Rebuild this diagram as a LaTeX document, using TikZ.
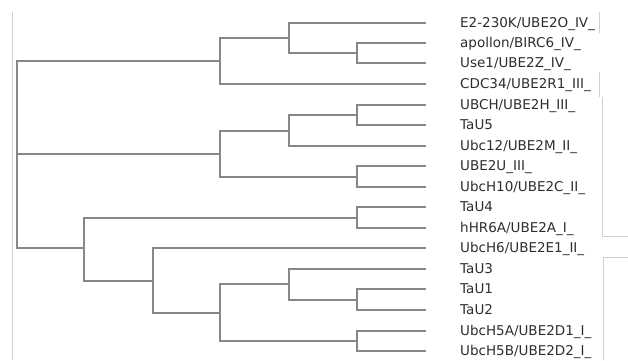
\documentclass[tikz,border=0pt]{standalone}
\usepackage{fontspec}
\setmainfont{DejaVu Sans}
\usetikzlibrary{positioning}
\definecolor{treegray}{RGB}{135,135,135}
\definecolor{labelgray}{RGB}{45,45,45}
\definecolor{framegray}{RGB}{208,208,208}

\begin{document}
\begin{tikzpicture}[x=1pt, y=-1pt,
		branch/.style={draw=treegray, line width=2pt},
		leafname/.style={text=labelgray, inner sep=0pt, anchor=base west, yshift=-4.5pt, font=\fontsize{13.5}{16}\selectfont},
		frameline/.style={draw=framegray, line width=0.8pt}]
		\useasboundingbox (0,0) rectangle (628,360);

		% leaf ends
		\coordinate (l1) at (426,22.7);
		\coordinate (l2) at (426,43.3);
		\coordinate (l3) at (426,63.3);
		\coordinate (l4) at (426,84);
		\coordinate (l5) at (426,104.7);
		\coordinate (l6) at (426,125.3);
		\coordinate (l7) at (426,145.7);
		\coordinate (l8) at (426,166);
		\coordinate (l9) at (426,186.7);
		\coordinate (l10) at (426,207.3);
		\coordinate (l11) at (426,228);
		\coordinate (l12) at (426,248.3);
		\coordinate (l13) at (426,268.7);
		\coordinate (l14) at (426,289.3);
		\coordinate (l15) at (426,310);
		\coordinate (l16) at (426,330.7);
		\coordinate (l17) at (426,351);

		% inner nodes
		\coordinate (root) at (17.3,153.7);
		\coordinate (a) at (220.3,61.3);
		\coordinate (a1) at (288.7,38.3);
		\coordinate (a2) at (357.3,53);
		\coordinate (b) at (220.3,153.7);
		\coordinate (b1) at (288.7,130.7);
		\coordinate (b2) at (357.3,176.7);
		\coordinate (b3) at (357.3,115.3);
		\coordinate (c) at (84.3,248.3);
		\coordinate (c1) at (357.3,218);
		\coordinate (c2) at (153,280.7);
		\coordinate (c3) at (220.3,312.7);
		\coordinate (c4) at (288.7,284.3);
		\coordinate (c5) at (357.3,340.7);
		\coordinate (c6) at (357.3,299.7);

		\foreach \p/\c in {root/a, root/b, root/c, a/a1, a/l4, a1/l1, a1/a2, a2/l2, a2/l3,
				b/b1, b/b2, b1/b3, b1/l7, b3/l5, b3/l6, b2/l8, b2/l9,
				c/c1, c/c2, c1/l10, c1/l11, c2/l12, c2/c3, c3/c4, c3/c5,
				c4/l13, c4/c6, c6/l14, c6/l15, c5/l16, c5/l17}
			\draw[branch] (\p) |- (\c);

		\node[right=34pt of l1, leafname] (n1) {E2-230K/UBE2O\_IV\_};
		\node[right=34pt of l2, leafname] (n2) {apollon/BIRC6\_IV\_};
		\node[right=34pt of l3, leafname] (n3) {Use1/UBE2Z\_IV\_};
		\node[right=34pt of l4, leafname] (n4) {CDC34/UBE2R1\_III\_};
		\node[right=34pt of l5, leafname] (n5) {UBCH/UBE2H\_III\_};
		\node[right=34pt of l6, leafname] (n6) {TaU5};
		\node[right=34pt of l7, leafname] (n7) {Ubc12/UBE2M\_II\_};
		\node[right=34pt of l8, leafname] (n8) {UBE2U\_III\_};
		\node[right=34pt of l9, leafname] (n9) {UbcH10/UBE2C\_II\_};
		\node[right=34pt of l10, leafname] (n10) {TaU4};
		\node[right=34pt of l11, leafname] (n11) {hHR6A/UBE2A\_I\_};
		\node[right=34pt of l12, leafname] (n12) {UbcH6/UBE2E1\_II\_};
		\node[right=34pt of l13, leafname] (n13) {TaU3};
		\node[right=34pt of l14, leafname] (n14) {TaU1};
		\node[right=34pt of l15, leafname] (n15) {TaU2};
		\node[right=34pt of l16, leafname] (n16) {UbcH5A/UBE2D1\_I\_};
		\node[right=34pt of l17, leafname] (n17) {UbcH5B/UBE2D2\_I\_};

		% faint frame remains
		\draw[frameline] (12.3,12) -- (12.3,360);
		\draw[frameline] (599,12) -- (599,33);
		\draw[frameline] (599,72) -- (599,97);
		\draw[frameline] (602,97) -- (602,236) -- (628,236);
		\draw[frameline] (603,360) -- (603,257) -- (628,257);
\end{tikzpicture}
\end{document}
